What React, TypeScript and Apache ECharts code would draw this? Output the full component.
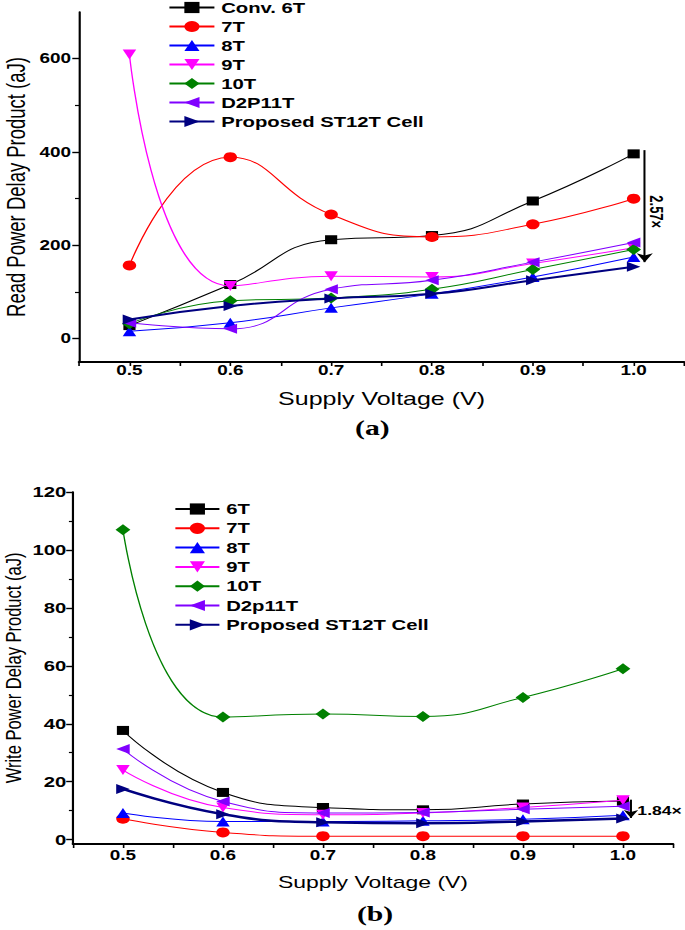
import React, { useEffect, useRef } from "react";
import * as echarts from "echarts";

// ---------- data ----------
const voltages = [0.5, 0.6, 0.7, 0.8, 0.9, 1.0];

const readNames = ["Conv. 6T", "7T", "8T", "9T", "10T", "D2P11T", "Proposed ST12T Cell"];
const readConv6T = [28, 116, 212, 221, 295, 396];
const read7T = [157, 389, 266, 218, 245, 300];
const read8T = [16, 34, 66, 96, 132, 175];
const read9T = [609, 113, 134, 132, 161, 195];
const read10T = [32, 81, 87, 106, 148, 191];
const readD2P11T = [34, 21, 106, 125, 164, 206];
const readST12T = [41, 70, 86, 96, 125, 154];

const writeNames = ["6T", "7T", "8T", "9T", "10T", "D2p11T", "Proposed ST12T Cell"];
const write6T = [37.7, 16.3, 11.1, 10.3, 12.3, 13.3];
const write7T = [7.2, 2.5, 1.2, 1.2, 1.2, 1.2];
const write8T = [9.2, 6.3, 6.3, 6.5, 7.0, 8.4];
const write9T = [24, 11.1, 8.6, 9.2, 11.1, 13.6];
const write10T = [107, 42.3, 43.4, 42.5, 49.1, 59];
const writeD2p11T = [31.3, 13.2, 9.2, 9.4, 10.5, 11.5];
const writeST12T = [17.5, 8.8, 6.0, 5.7, 6.3, 7.3];

const readMajorTicks = [0, 200, 400, 600];
const readMinorTicks = [100, 300, 500];
const writeMajorTicks = [0, 20, 40, 60, 80, 100, 120];
const writeMinorTicks = [10, 30, 50, 70, 90, 110];

const readRatioLabel = "2.57×";
const writeRatioLabel = "1.84×";

// ---------- styling ----------
const FONT = '"Liberation Sans", Arial, sans-serif';
const W = 507;
const H = 930;
const SX = 685 / W;

const colors = ["#000000", "#ff0000", "#0000ff", "#ff00ff", "#008000", "#8000ff", "#000080"];
const symbols = [
  "rect",
  "circle",
  "triangle",
  "path://M0,0L10,0L5,10Z",
  "diamond",
  "path://M10,0L10,10L0,5Z",
  "path://M0,0L10,5L0,10Z",
];
const symbolSizes = [9, 10, 10, 10, 11, 10, 10];

function mkSeries(name: string, vals: number[], idx: number, xi: number, yi: number, thick: number, extra: any = {}) {
  return {
    name,
    type: "line",
    xAxisIndex: xi,
    yAxisIndex: yi,
    data: voltages.map((v, i) => [v, vals[i]]),
    smooth: 0.5,
    symbol: symbols[idx],
    symbolSize: symbolSizes[idx],
    showAllSymbol: true,
    clip: false,
    z: 2 + idx,
    lineStyle: { color: colors[idx], width: idx === 6 ? thick : 1 },
    itemStyle: { color: colors[idx] },
    emphasis: { disabled: true },
    ...extra,
  };
}

const fmtV = (v: number) => {
  const r = Math.round(v * 100);
  return r % 10 === 0 ? (r / 100).toFixed(1) : "";
};

function xAxis(gridIndex: number, nameGap: number, nameSize: number, labelSize: number, margin: number) {
  return {
    gridIndex,
    type: "value",
    min: 0.45,
    max: 1.05,
    interval: 0.05,
    axisLine: { show: true, onZero: false, lineStyle: { color: "#000", width: 2 } },
    axisTick: { show: true, length: 4, lineStyle: { color: "#000", width: 1.2 } },
    axisLabel: {
      formatter: fmtV,
      margin,
      color: "#000",
      fontFamily: FONT,
      fontWeight: "bold",
      fontSize: labelSize,
      showMinLabel: true,
      showMaxLabel: true,
    },
    splitLine: { show: false },
    name: "Supply Voltage (V)",
    nameLocation: "middle",
    nameGap,
    nameTextStyle: { color: "#000", fontFamily: FONT, fontSize: nameSize },
  };
}

function yMain(gridIndex: number, min: number, max: number, ticks: number[], name: string, nameGap: number, nameSize: number, labelSize: number, margin: number) {
  return {
    gridIndex,
    type: "value",
    min,
    max,
    axisLine: { show: true, onZero: false, lineStyle: { color: "#000", width: 1.6 } },
    axisTick: { show: true, length: 5, customValues: ticks, lineStyle: { color: "#000", width: 1.4 } },
    axisLabel: {
      customValues: ticks,
      margin,
      color: "#000",
      fontFamily: FONT,
      fontWeight: "bold",
      fontSize: labelSize,
    },
    splitLine: { show: false },
    name,
    nameLocation: "middle",
    nameRotate: 90,
    nameGap,
    nameMoveOverlap: false,
    nameTextStyle: { color: "#000", fontFamily: FONT, fontSize: nameSize },
  };
}

function yMinor(gridIndex: number, min: number, max: number, ticks: number[]) {
  return {
    gridIndex,
    type: "value",
    min,
    max,
    position: "left",
    axisLine: { show: false },
    axisTick: { show: true, length: 3, customValues: ticks, lineStyle: { color: "#000", width: 1.2 } },
    axisLabel: { show: false },
    splitLine: { show: false },
  };
}

function legend(names: string[], left: number, top: number, itemWidth: number, itemGap: number) {
  return {
    data: names,
    orient: "vertical",
    left,
    top,
    padding: 0,
    itemWidth,
    itemHeight: 14,
    itemGap,
    selectedMode: false,
    textStyle: { color: "#000", fontFamily: FONT, fontWeight: "bold", fontSize: 15 },
  };
}

export default function App() {
  const ref = useRef<HTMLDivElement>(null);

  useEffect(() => {
    if (!ref.current) return;
    const chart = echarts.init(ref.current, null, { renderer: "svg", width: W, height: H });

    const readVals = [readConv6T, read7T, read8T, read9T, read10T, readD2P11T, readST12T];
    const writeVals = [write6T, write7T, write8T, write9T, write10T, writeD2p11T, writeST12T];

    const readSeries = readNames.map((n, i) => {
      const extra: any = {};
      if (i === 0) {
        extra.markLine = {
          silent: true,
          symbol: ["none", "arrow"],
          symbolSize: 9,
          lineStyle: { color: "#000", width: 1.5, type: "solid" },
          label: { show: false },
          emphasis: { disabled: true },
          data: [[{ coord: [1.011, 404] }, { coord: [1.011, 164] }]],
        };
        extra.markPoint = {
          silent: true,
          symbol: "circle",
          symbolSize: 1,
          itemStyle: { color: "rgba(0,0,0,0)" },
          label: {
            show: true,
            position: "inside",
            formatter: readRatioLabel,
            rotate: -90,
            color: "#000",
            fontFamily: FONT,
            fontWeight: "bold",
            fontSize: 13,
          },
          data: [{ coord: [1.022, 272] }],
        };
      }
      return mkSeries(n, readVals[i], i, 0, 0, 2, extra);
    });

    const writeSeries = writeNames.map((n, i) => {
      const extra: any = {};
      if (i === 0) {
        extra.markLine = {
          silent: true,
          symbol: ["none", "arrow"],
          symbolSize: 8,
          lineStyle: { color: "#000", width: 1.5, type: "solid" },
          label: { show: false },
          emphasis: { disabled: true },
          data: [[{ coord: [1.008, 13.8] }, { coord: [1.008, 7.5] }]],
        };
        extra.markPoint = {
          silent: true,
          symbol: "circle",
          symbolSize: 1,
          itemStyle: { color: "rgba(0,0,0,0)" },
          label: {
            show: true,
            position: "inside",
            formatter: writeRatioLabel,
            color: "#000",
            fontFamily: FONT,
            fontWeight: "bold",
            fontSize: 13,
          },
          data: [{ coord: [1.0366, 10] }],
        };
      }
      return mkSeries(n, writeVals[i], i, 1, 2, 2.5, extra);
    });

    chart.setOption({
      animation: false,
      backgroundColor: "#ffffff",
      grid: [
        { left: 58.5, right: 0.7, top: 12, height: 350, containLabel: false, outerBoundsMode: "none" },
        { left: 54, right: 8.9, top: 492, height: 352, containLabel: false, outerBoundsMode: "none" },
      ],
      legend: [
        legend(readNames, 124.4, 0, 33.3, 4),
        legend(writeNames, 128.8, 501.5, 32.6, 4.3),
      ],
      xAxis: [xAxis(0, 27, 18.5, 14, 1), xAxis(1, 30, 17, 14, 4)],
      yAxis: [
        yMain(0, -50, 700, readMajorTicks, "Read Power Delay Product (aJ)", 37, 18.5, 14, 6),
        yMinor(0, -50, 700, readMinorTicks),
        yMain(1, -1.5, 120, writeMajorTicks, "Write Power Delay Product (aJ)", 35.5, 16.5, 15, 5),
        yMinor(1, -1.5, 120, writeMinorTicks),
      ],
      graphic: [
        {
          type: "text",
          x: 275.6,
          y: 428,
          style: {
            text: "(a)",
            fill: "#000",
            font: 'bold 22px "Liberation Serif", "Times New Roman", serif',
            textAlign: "center",
            textVerticalAlign: "middle",
          },
        },
        {
          type: "text",
          x: 277.6,
          y: 914,
          style: {
            text: "(b)",
            fill: "#000",
            font: 'bold 22px "Liberation Serif", "Times New Roman", serif',
            textAlign: "center",
            textVerticalAlign: "middle",
          },
        },
      ],
      series: [...readSeries, ...writeSeries],
    });

    return () => chart.dispose();
  }, []);

  return (
    <div
      ref={ref}
      style={{
        position: "absolute",
        left: 0,
        top: 0,
        width: W,
        height: H,
        transform: `scaleX(${SX})`,
        transformOrigin: "0 0",
        background: "#fff",
      }}
    />
  );
}
